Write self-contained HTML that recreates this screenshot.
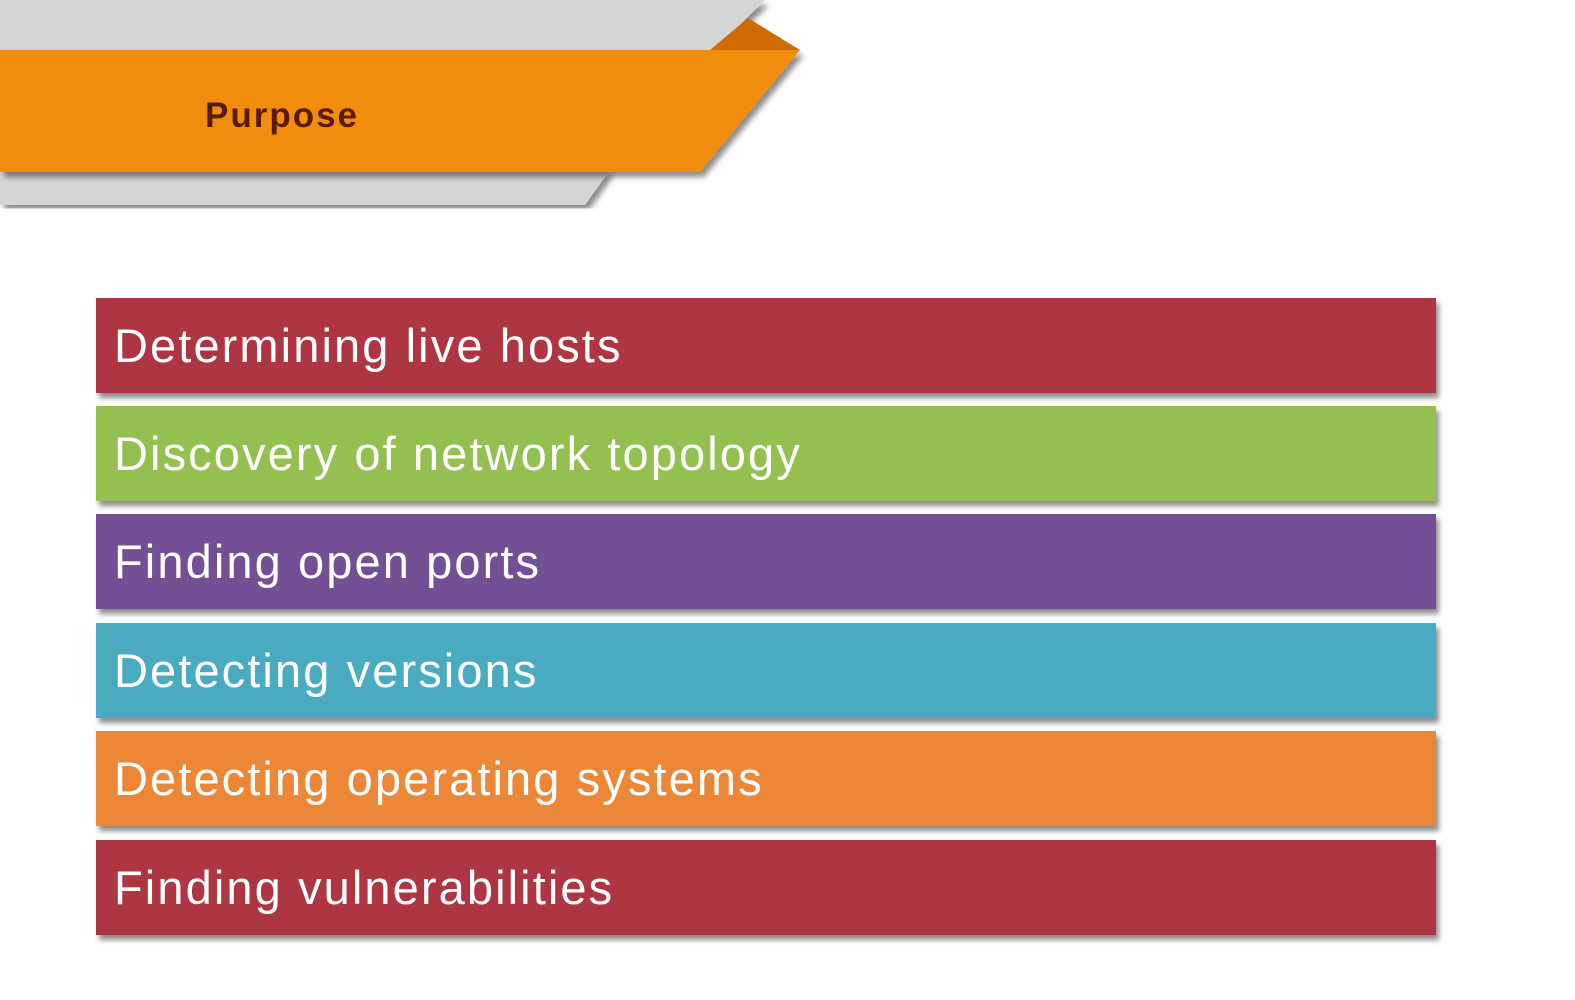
<!DOCTYPE html>
<html><head><style>
body{margin:0;width:1575px;height:1000px;background:#fff;position:relative;overflow:hidden;font-family:"Liberation Sans",sans-serif}
.bar{position:absolute;left:96px;width:1340px;height:95px;box-shadow:3px 5px 5px rgba(0,0,0,.45);color:#fff;font-size:47px;letter-spacing:2.1px;line-height:95px;padding-left:18px;box-sizing:border-box}
</style></head><body>
<svg width="1575" height="230" style="position:absolute;left:0;top:0">
<defs><filter id="s"><feDropShadow dx="4" dy="5" stdDeviation="3" flood-color="#000" flood-opacity=".45"/></filter></defs>
<polygon points="0,0 765,0 712,52 0,52" fill="#d4d5d5" filter="url(#s)"/>
<polygon points="0,170 610,170 585,205 0,205" fill="#d4d5d5" filter="url(#s)"/>
<polygon points="710,50 748,18 800,50" fill="#cf6b05"/>
<polygon points="0,50 800,50 700,172 0,172" fill="#f18c0b" filter="url(#s)"/>
<text x="282" y="127" text-anchor="middle" font-family="Liberation Sans" font-weight="bold" font-size="35" letter-spacing="2" fill="#5a1a0c">Purpose</text>
</svg>
<div class="bar" style="top:298px;background:#ad3642">Determining live hosts</div>
<div class="bar" style="top:406px;background:#94c051">Discovery of network topology</div>
<div class="bar" style="top:514px;background:#734f96">Finding open ports</div>
<div class="bar" style="top:623px;background:#4aabc0">Detecting versions</div>
<div class="bar" style="top:731px;background:#ec8737">Detecting operating systems</div>
<div class="bar" style="top:840px;background:#ad3642">Finding vulnerabilities</div>
</body></html>
